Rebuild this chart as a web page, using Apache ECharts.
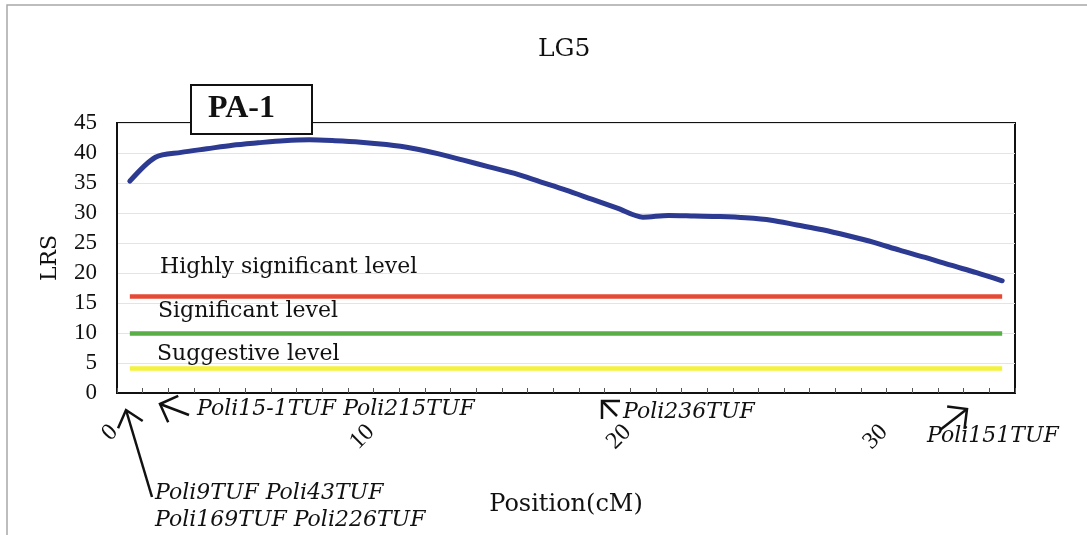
<!DOCTYPE html>
<html>
<head>
<meta charset="utf-8">
<script src="https://cdn.jsdelivr.net/npm/echarts@6/dist/echarts.min.js"></script>
<style>
  html, body { margin: 0; padding: 0; background: #fff; }
  #main { width: 1087px; height: 535px; }
</style>
</head>
<body>
<div id="main"></div>
<script>
// positions along LG5 (cM), one per analysis step
var positions = [];
for (var p = 0; p <= 34; p++) positions.push(String(p));

// LRS values
var lrsValues = [
    35.3, 39.3, 40.1, 40.7, 41.3, 41.7, 42.05, 42.2, 42.05, 41.8,
    41.4, 40.8, 39.9, 38.8, 37.7, 36.6, 35.2, 33.8, 32.3, 30.8,
    29.3, 29.6, 29.5, 29.4, 29.2, 28.8, 28.0, 27.2, 26.2, 25.1,
    23.8, 22.6, 21.3, 20.05, 18.7
];

// threshold levels
var levelNames = ['Highly significant level', 'Significant level', 'Suggestive level'];
var levelValues = [16.2, 10.0, 4.2];
var levelColors = ['#e64a35', '#5aae48', '#f3f23c'];

var serif = 'DejaVu Serif';
var numFont = 'Liberation Serif';

// small helper: arrow drawn as shaft + head (tail -> tip)
function arrow(tail, tip, len, ang) {
    var dx = tail[0] - tip[0], dy = tail[1] - tip[1];
    var a = Math.atan2(dy, dx);
    var r = ang * Math.PI / 180;
    var w1 = [tip[0] + len * Math.cos(a + r), tip[1] + len * Math.sin(a + r)];
    var w2 = [tip[0] + len * Math.cos(a - r), tip[1] + len * Math.sin(a - r)];
    var st = { stroke: '#111', lineWidth: 2.5, fill: null };
    return [
        { type: 'polyline', z: 100, shape: { points: [tail, tip] }, style: st },
        { type: 'polyline', z: 100, shape: { points: [w1, tip, w2] }, style: st }
    ];
}

var italic = { font: 'italic 22px "' + serif + '"' };

var graphics = [
    // outer frame
    { type: 'polyline', z: 1, shape: { points: [[7, 535], [7, 5], [1087, 5]] }, style: { stroke: '#a8a8a8', lineWidth: 1.5, fill: null } },
    // PA-1 box
    { type: 'rect', z: 100, shape: { x: 191, y: 85, width: 121, height: 49 }, style: { fill: '#fff', stroke: '#111', lineWidth: 2 } },
    { type: 'text', z: 101, left: 208, top: 93, style: { text: 'PA-1', fill: '#111', font: 'bold 32px "Liberation Serif"' } }
];

// level captions
graphics.push({ type: 'text', z: 100, left: 160, top: 256, style: { text: levelNames[0], fill: '#111', font: '22px "' + serif + '"' } });
graphics.push({ type: 'text', z: 100, left: 158, top: 300, style: { text: levelNames[1], fill: '#111', font: '22px "' + serif + '"' } });
graphics.push({ type: 'text', z: 100, left: 157, top: 343, style: { text: levelNames[2], fill: '#111', font: '22px "' + serif + '"' } });

// marker annotations
graphics.push({ type: 'text', z: 100, left: 197, top: 398, style: Object.assign({ text: 'Poli15-1TUF Poli215TUF', fill: '#111' }, italic) });
graphics.push({ type: 'text', z: 100, left: 155, top: 482, style: Object.assign({ text: 'Poli9TUF Poli43TUF', fill: '#111' }, italic) });
graphics.push({ type: 'text', z: 100, left: 155, top: 509, style: Object.assign({ text: 'Poli169TUF Poli226TUF', fill: '#111' }, italic) });
graphics.push({ type: 'text', z: 100, left: 623, top: 401, style: Object.assign({ text: 'Poli236TUF', fill: '#111' }, italic) });
graphics.push({ type: 'text', z: 100, left: 927, top: 425, style: Object.assign({ text: 'Poli151TUF', fill: '#111' }, italic) });

graphics = graphics
    .concat(arrow([152, 497], [126, 410], 20, 40))
    .concat(arrow([189, 415], [160, 404], 20, 45))
    .concat(arrow([617, 416], [602, 401], 18, 45))
    .concat(arrow([940, 430], [967, 409], 20, 45));

var levelLines = [];
for (var k = 0; k < levelValues.length; k++) {
    levelLines.push([
        { coord: [positions[0], levelValues[k]], lineStyle: { color: levelColors[k], width: 4.5, type: 'solid' } },
        { coord: [positions[positions.length - 1], levelValues[k]] }
    ]);
}

var option = {
    backgroundColor: '#fff',
    animation: false,
    title: {
        text: 'LG5',
        left: 533,
        top: 32,
        textStyle: { fontFamily: serif, fontSize: 25, fontWeight: 'normal', color: '#111' }
    },
    grid: { left: 117, right: 72, top: 123, bottom: 142, show: true, borderColor: '#111', borderWidth: 2, backgroundColor: 'transparent' },
    xAxis: {
        type: 'category',
        data: positions,
        boundaryGap: true,
        name: 'Position(cM)',
        nameLocation: 'middle',
        nameGap: 100,
        nameTextStyle: { fontFamily: serif, fontSize: 24, color: '#111' },
        axisLine: { lineStyle: { color: '#111', width: 2 } },
        axisTick: { show: true, inside: true, length: 5, interval: 0, lineStyle: { color: '#555', width: 1 } },
        axisLabel: {
            interval: 9,
            rotate: 45,
            margin: 20,
            padding: [0, 22, 0, 0],
            formatter: '{n|{value}}',
            rich: { n: { fontFamily: numFont, fontSize: 24, color: '#111' } }
        },
        splitLine: { show: false }
    },
    yAxis: {
        type: 'value',
        min: 0,
        max: 45,
        interval: 5,
        name: 'LRS',
        nameLocation: 'middle',
        nameGap: 56,
        nameTextStyle: { fontFamily: serif, fontSize: 22, color: '#111' },
        axisLine: { show: true, lineStyle: { color: '#111', width: 2 } },
        axisTick: { show: false },
        axisLabel: { margin: 20, fontFamily: numFont, fontSize: 23, color: '#111' },
        splitLine: { show: true, lineStyle: { color: '#e4e4e4', width: 1 } }
    },
    series: [
        {
            name: 'PA-1',
            type: 'line',
            data: lrsValues,
            smooth: 0.3,
            showSymbol: false,
            symbol: 'none',
            lineStyle: { color: '#2c3a92', width: 5, cap: 'round' },
            z: 5,
            markLine: {
                silent: true,
                symbol: ['none', 'none'],
                label: { show: false },
                data: levelLines
            }
        }
    ],
    graphic: graphics
};

var chart = echarts.init(document.getElementById('main'));
chart.setOption(option);
</script>
</body>
</html>
